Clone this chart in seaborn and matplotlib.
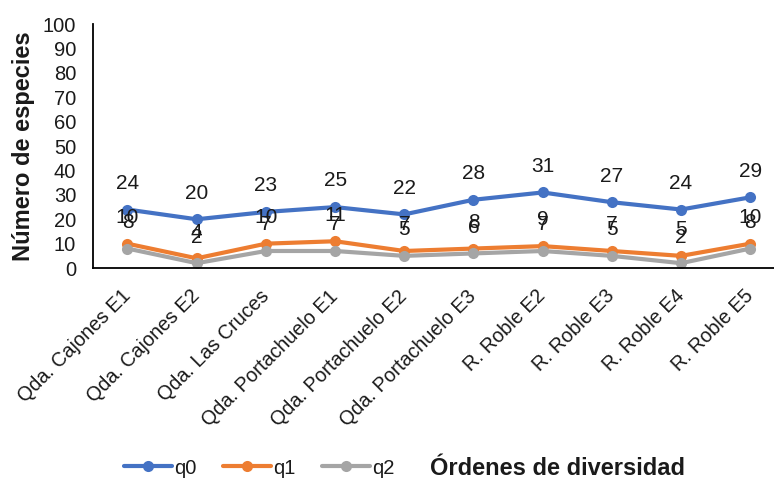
import pandas as pd
import seaborn as sns
import matplotlib.pyplot as plt
from matplotlib.transforms import ScaledTranslation

# Data
sites = ['Qda. Cajones E1', 'Qda. Cajones E2', 'Qda. Las Cruces', 'Qda. Portachuelo E1',
         'Qda. Portachuelo E2', 'Qda. Portachuelo E3', 'R. Roble E2', 'R. Roble E3',
         'R. Roble E4', 'R. Roble E5']
q0 = [24, 20, 23, 25, 22, 28, 31, 27, 24, 29]
q1 = [10, 4, 10, 11, 7, 8, 9, 7, 5, 10]
q2 = [8, 2, 7, 7, 5, 6, 7, 5, 2, 8]

colors = {'q0': '#4472C4', 'q1': '#ED7D31', 'q2': '#A5A5A5'}

df = pd.DataFrame({'sitio': sites * 3,
                   'valor': q0 + q1 + q2,
                   'orden': ['q0'] * 10 + ['q1'] * 10 + ['q2'] * 10})
df['pos'] = list(range(10)) * 3

sns.set_style('white')
plt.rcParams['font.family'] = ['Liberation Sans', 'DejaVu Sans']
txt = '#1a1a1a'

fig = plt.figure(figsize=(7.74, 4.83), dpi=100)
ax = fig.add_axes([0.120, 0.445, 0.894, 0.505])

sns.lineplot(data=df, x='pos', y='valor', hue='orden', palette=colors,
             marker='o', markersize=8, markeredgewidth=0, linewidth=3,
             sort=False, ax=ax, legend=False)

# data labels above each point
for name, vals in [('q0', q0), ('q1', q1), ('q2', q2)]:
    for i, v in enumerate(vals):
        ax.annotate(str(v), (i, v), xytext=(0, 12), textcoords='offset points',
                    ha='center', va='bottom', fontsize=15, color=txt)

ax.set_xlim(-0.5, 9.5)
ax.set_ylim(0, 100)
ax.set_yticks(range(0, 101, 10))
ax.set_xticks(range(10))
ax.set_xticklabels(sites, rotation=45, ha='right', va='center',
                   rotation_mode='anchor', fontsize=14.2, color=txt)
shift = ScaledTranslation(-0.09, 0, fig.dpi_scale_trans)
for lab in ax.get_xticklabels():
    lab.set_transform(lab.get_transform() + shift)
ax.tick_params(axis='y', labelsize=14.5, length=0, pad=12, labelcolor=txt)
ax.tick_params(axis='x', length=0, pad=18)
ax.set_xlabel('')
ax.set_ylabel('Número de especies', fontsize=17, fontweight='bold', labelpad=6, color=txt)
for s in ['top', 'right']:
    ax.spines[s].set_visible(False)
for s in ['left', 'bottom']:
    ax.spines[s].set_color('black')
    ax.spines[s].set_linewidth(1.3)

handles = [plt.Line2D([], [], color=colors[k], marker='o', markersize=8,
                      markeredgewidth=0, linewidth=3) for k in ['q0', 'q1', 'q2']]
fig.legend(handles, ['q0', 'q1', 'q2'], loc='center left', bbox_to_anchor=(0.137, 0.031),
           ncol=3, frameon=False, fontsize=14.5, handlelength=2.4, handletextpad=0.1,
           columnspacing=1.3, labelcolor=txt)
fig.text(0.555, 0.031, 'Órdenes de diversidad', fontsize=17, fontweight='bold',
         va='center', color=txt)

plt.savefig('out.png', dpi=100)
